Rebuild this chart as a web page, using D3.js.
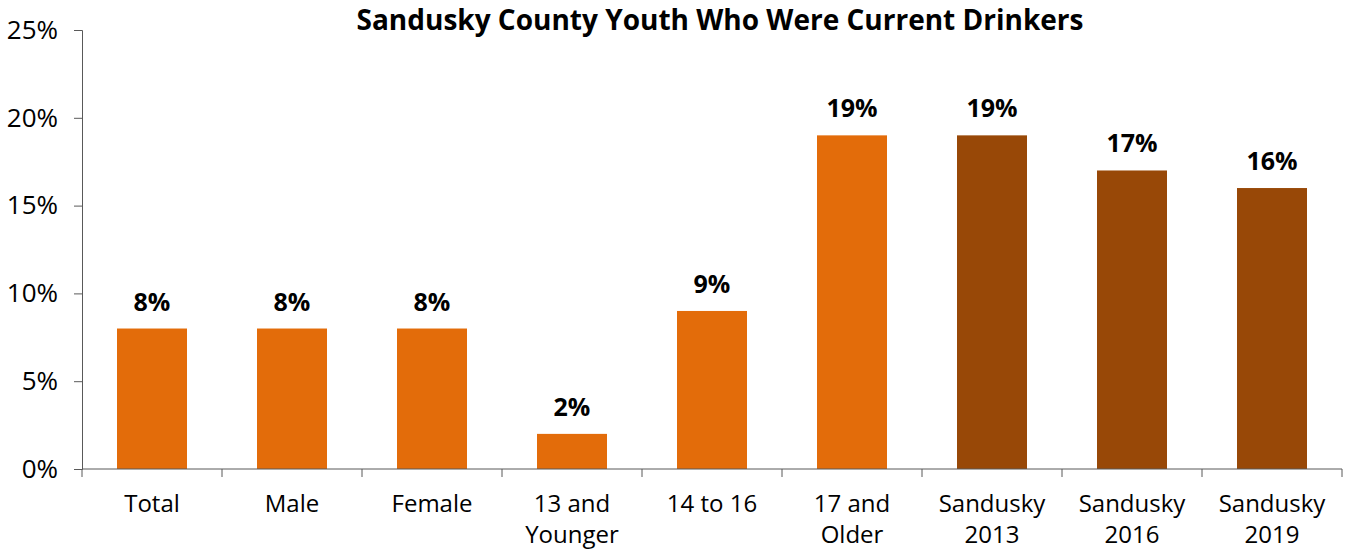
<!DOCTYPE html>
<html>
<head>
<meta charset="utf-8">
<script src="https://cdn.jsdelivr.net/npm/d3@7"></script>
<style>
  body { margin: 0; background: #fff; }
  text { font-family: "Open Sans", "Noto Sans", sans-serif; fill: #000; }
</style>
</head>
<body>
<div id="chart"></div>
<script>
// data
var categories = ['Total', 'Male', 'Female', '13 and\nYounger', '14 to 16', '17 and\nOlder', 'Sandusky\n2013', 'Sandusky\n2016', 'Sandusky\n2019'];
var values = [8, 8, 8, 2, 9, 19, 19, 17, 16];
var groups = ['current', 'current', 'current', 'current', 'current', 'current', 'past', 'past', 'past'];
var yTicks = [0, 5, 10, 15, 20, 25];

var width = 1346, height = 552;
var margin = { top: 30, right: 4, bottom: 83, left: 82 };

var colors = { current: '#E36C0A', past: '#984807' };

var svg = d3.select('#chart')
  .append('svg')
  .attr('width', width)
  .attr('height', height);

var x = d3.scaleBand()
  .domain(d3.range(categories.length))
  .range([margin.left, width - margin.right])
  .paddingInner(0.5)
  .paddingOuter(0.25);

var y = d3.scaleLinear()
  .domain([0, 25])
  .range([height - margin.bottom, margin.top]);

// title
svg.append('text')
  .attr('x', 720)
  .attr('y', 30)
  .attr('text-anchor', 'middle')
  .style('font-size', '28px')
  .style('font-weight', 'bold')
  .text('Sandusky County Youth Who Were Current Drinkers');

// y axis
var yAxis = svg.append('g')
  .attr('transform', 'translate(' + margin.left + ',0)')
  .call(d3.axisLeft(y).tickValues(yTicks).tickSize(8).tickPadding(16).tickFormat(d => d + '%'));
yAxis.select('.domain').attr('stroke', '#595959');
yAxis.selectAll('.tick line').attr('stroke', '#595959');
yAxis.selectAll('.tick text').style('font-size', '26px');

// bars
svg.selectAll('.bar')
  .data(values)
  .enter().append('rect')
  .attr('class', 'bar')
  .attr('x', (d, i) => x(i))
  .attr('y', d => y(d))
  .attr('width', x.bandwidth())
  .attr('height', d => y(0) - y(d))
  .attr('fill', (d, i) => colors[groups[i]]);

// value labels
svg.selectAll('.label')
  .data(values)
  .enter().append('text')
  .attr('class', 'label')
  .attr('x', (d, i) => x(i) + x.bandwidth() / 2)
  .attr('y', d => y(d) - 18)
  .attr('text-anchor', 'middle')
  .style('font-size', '25px')
  .style('font-weight', 'bold')
  .text(d => d + '%');

// x axis
var step = x.step();
var base = y(0);
var xAxis = svg.append('g');
xAxis.append('line')
  .attr('x1', margin.left).attr('x2', width - margin.right)
  .attr('y1', base).attr('y2', base)
  .attr('stroke', '#595959');
xAxis.selectAll('.xtick')
  .data(d3.range(categories.length + 1))
  .enter().append('line')
  .attr('class', 'xtick')
  .attr('x1', i => margin.left + i * step)
  .attr('x2', i => margin.left + i * step)
  .attr('y1', base).attr('y2', base + 8)
  .attr('stroke', '#595959');

var xl = xAxis.selectAll('.xlabel')
  .data(categories)
  .enter().append('text')
  .attr('class', 'xlabel')
  .attr('text-anchor', 'middle')
  .style('font-size', '24px')
  .attr('transform', (d, i) => 'translate(' + (x(i) + x.bandwidth() / 2) + ',' + (base + 43) + ')');

xl.selectAll('tspan')
  .data(d => d.split('\n'))
  .enter().append('tspan')
  .attr('x', 0)
  .attr('dy', (d, i) => i === 0 ? 0 : 31)
  .text(d => d);
</script>
</body>
</html>
